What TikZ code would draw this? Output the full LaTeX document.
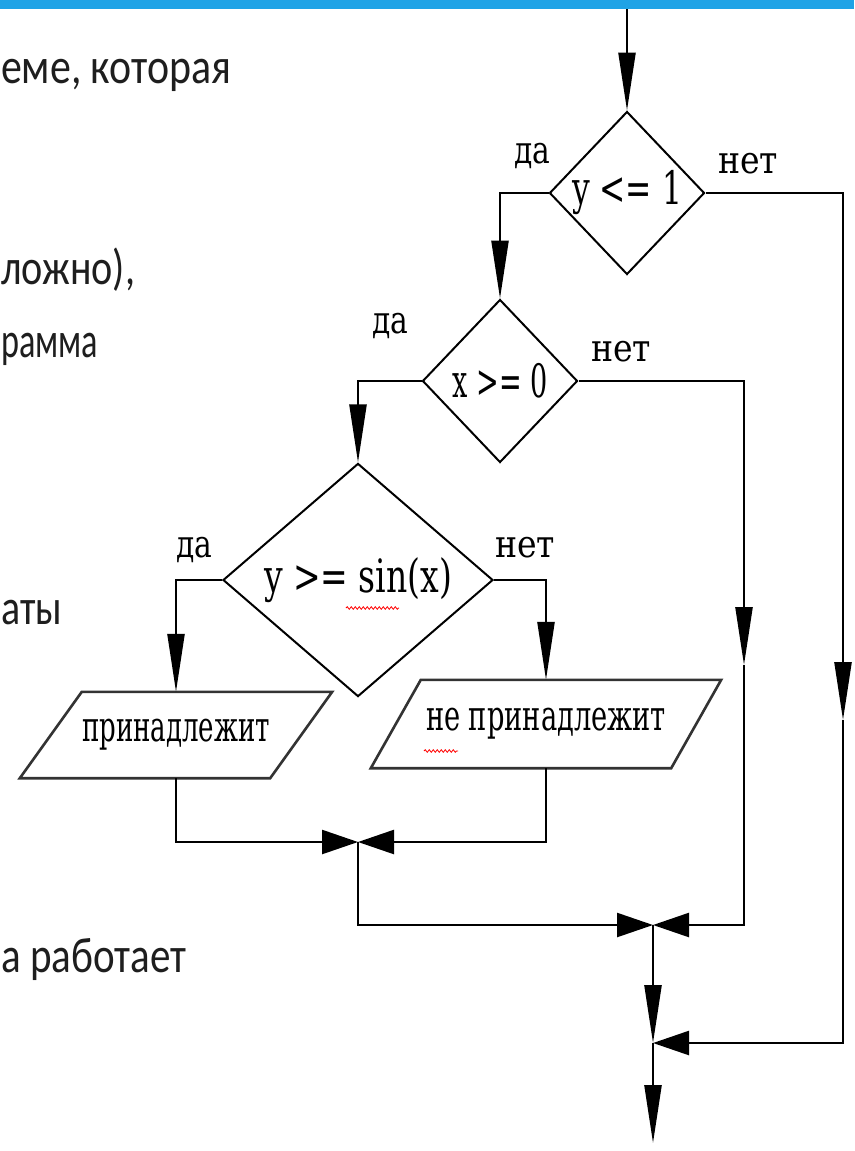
\documentclass[tikz,border=0pt]{standalone}
\usepackage{fontspec}
\setmainfont{Carlito}
\newfontfamily\flowfont{DejaVu Serif Condensed}
\usetikzlibrary{arrows.meta,shapes.geometric,decorations.pathmorphing,calc}
\definecolor{barblue}{HTML}{1FA3E6}
\definecolor{bodytext}{HTML}{1E1E1E}
\newcommand{\fitw}[2]{\resizebox{#1}{\height}{#2}}
\begin{document}
\begin{tikzpicture}[x=1pt,y=-1pt,
  conn/.style={line width=2.4pt, black},
  varrow/.style={-{Triangle[length=58pt,width=17pt]}},
  harrow/.style={-{Triangle[length=36pt,width=24pt]}},
  dec/.style={diamond, draw, line width=2pt, inner sep=0pt, font=\flowfont\fontsize{46}{46}\selectfont},
  iobox/.style={rectangle, inner sep=0pt, font=\flowfont\fontsize{42}{42}\selectfont},
  iodraw/.style={line width=2.6pt, black!80},
  lbl/.style={inner sep=0pt, font=\flowfont\fontsize{38}{38}\selectfont},
  body/.style={inner sep=0pt, anchor=base west, text=bodytext, font=\fontsize{50}{50}\selectfont},
  squig/.style={red, line width=0.8pt, decorate, decoration={snake, amplitude=1.3pt, segment length=4pt}}
]
\useasboundingbox (0,0) rectangle (854,1151);
\fill[white] (0,0) rectangle (854,1151);
\fill[barblue] (0,0) rectangle (854,9);

% left body text fragments
\node[body] (t1) at (1,83) {\fitw{230pt}{еме, которая}};
\node[body] (t2) at (1,284) {\fitw{134pt}{ложно),}};
\node[body] (t3) at (1,357) {\fitw{97pt}{рамма}};
\node[body] (t4) at (1,624) {\fitw{61pt}{аты}};
\node[body] (t5) at (1,972) {\fitw{185pt}{а работает}};

% decisions
\node[dec, minimum width=155pt, minimum height=163pt] (d1) at (627,193) {\raisebox{-4pt}{\fitw{110pt}{y <= 1}}};
\node[dec, minimum width=155pt, minimum height=163pt] (d2) at (500,381) {\raisebox{-3pt}{\fitw{95pt}{x >= 0}}};
\node[dec, minimum width=270pt, minimum height=196pt] (d3) at (358,580) {\raisebox{-2pt}{\fitw{188pt}{y >= sin(x)}}};

% outputs
\node[iobox, minimum width=250pt, minimum height=86pt] (p1) at (176,735) {\fitw{188pt}{принадлежит}};
\node[iobox, minimum width=300pt, minimum height=88pt] (p2) at (546,724) {\fitw{240pt}{не принадлежит}};
\draw[iodraw] ([xshift=31pt]p1.north west) -- ([xshift=31pt]p1.north east) -- ([xshift=-31pt]p1.south east) -- ([xshift=-31pt]p1.south west) -- cycle;
\draw[iodraw] ([xshift=25pt]p2.north west) -- ([xshift=25pt]p2.north east) -- ([xshift=-25pt]p2.south east) -- ([xshift=-25pt]p2.south west) -- cycle;

% labels
\node[lbl] (l1y) at (532,156) {\fitw{36pt}{да}};
\node[lbl] (l1n) at (748,164) {\fitw{60pt}{нет}};
\node[lbl] (l2y) at (390,326) {\fitw{36pt}{да}};
\node[lbl] (l2n) at (621,352) {\fitw{60pt}{нет}};
\node[lbl] (l3y) at (194,550) {\fitw{36pt}{да}};
\node[lbl] (l3n) at (525,548) {\fitw{60pt}{нет}};

% spell-check squiggles
\draw[squig] (346,608) -- (399,608);
\draw[squig] (424,751) -- (458,751);

% coordinates
\coordinate (start) at (627,9);
\coordinate (a1) at (843,720);
\coordinate (a2) at (744,665);
\coordinate (m1) at (358,842);
\coordinate (m2) at (653,925);
\coordinate (m3) at (653,1043);
\coordinate (fin) at (653,1143);

% connectors
\draw[conn, varrow] (start) -- (d1.north);
\draw[conn, varrow] (d1.west) -| (d2.north);
\draw[conn, varrow] (d1.east) -| (a1);
\draw[conn, harrow] (a1) |- (m3);
\draw[conn, varrow] (d2.west) -| (d3.north);
\draw[conn, varrow] (d2.east) -| (a2);
\draw[conn, harrow] (a2) |- (m2);
\draw[conn, varrow] (d3.west) -| (p1.north);
\draw[conn, varrow] (d3.east) -| (p2.north);
\draw[conn, harrow] (p1.south) |- (m1);
\draw[conn, harrow] (p2.south) |- (m1);
\draw[conn, harrow] (m1) |- (m2);
\draw[conn, varrow] (m2) -- (m3);
\draw[conn, varrow] (m3) -- (fin);
\end{tikzpicture}
\end{document}
